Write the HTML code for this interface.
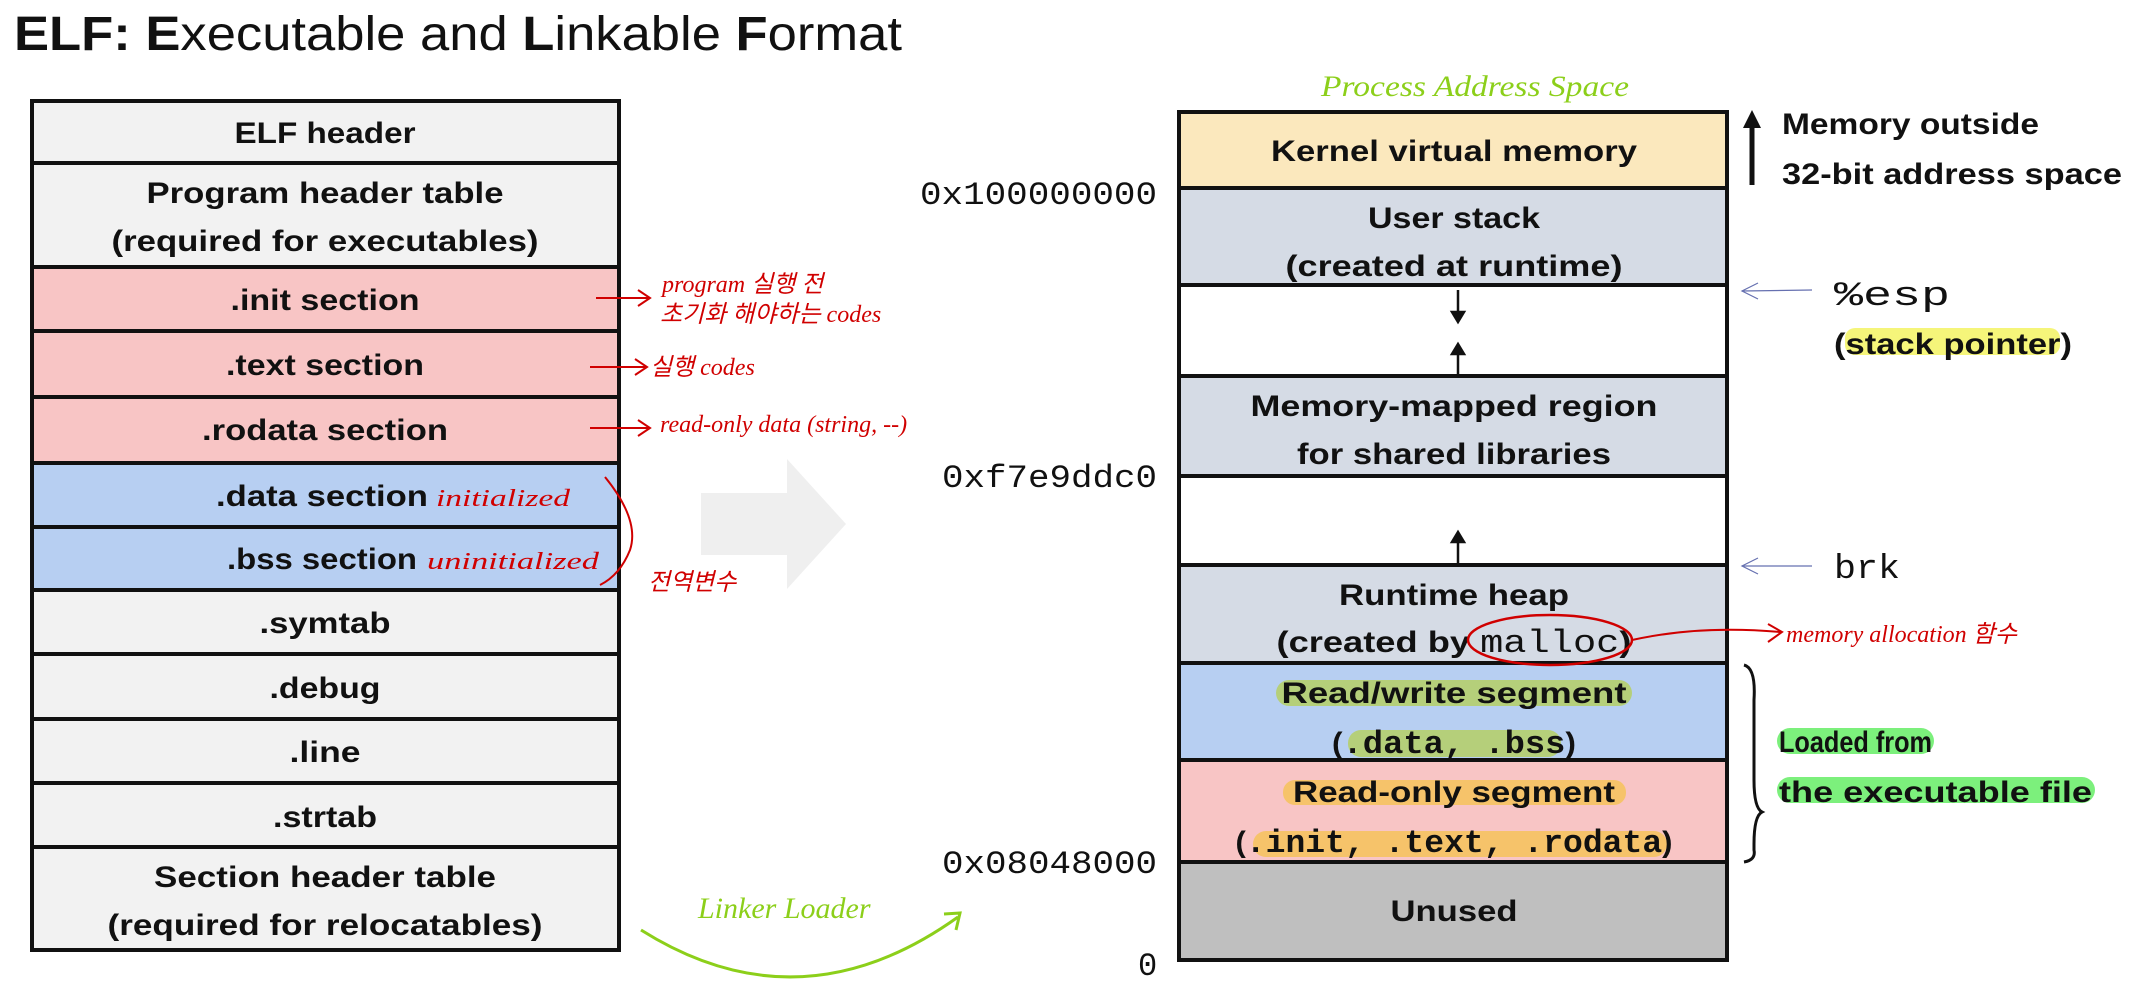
<!DOCTYPE html>
<html><head><meta charset="utf-8"><style>
html,body{margin:0;padding:0;background:#fff;}
svg{display:block}
.b{font-family:"Liberation Sans","Noto Sans CJK KR",sans-serif;font-weight:bold;font-size:30px;fill:#111;text-anchor:middle}
.s{font-family:"Liberation Sans","Noto Sans CJK KR",sans-serif;font-weight:bold;font-size:30px;fill:#111;text-anchor:start}
.m{font-family:"Liberation Mono",monospace;font-size:32px;fill:#111}
.r{font-family:"Liberation Serif","Noto Sans CJK KR",serif;font-style:italic;fill:#d00000;font-size:24px}
.g{font-family:"Liberation Serif",serif;font-style:italic;fill:#8ccf1a;font-size:30px}
</style></head><body>
<svg width="2146" height="999" viewBox="0 0 2146 999" xmlns="http://www.w3.org/2000/svg">
<text x="14" y="50" font-family="Liberation Sans,sans-serif" font-size="48" fill="#111" textLength="888" lengthAdjust="spacingAndGlyphs"><tspan font-weight="bold">ELF: E</tspan>xecutable and <tspan font-weight="bold">L</tspan>inkable <tspan font-weight="bold">F</tspan>ormat</text>

<!-- left table -->
<g stroke="#111" stroke-width="4">
<rect x="32" y="101" width="587" height="62" fill="#f2f2f2"/>
<rect x="32" y="163" width="587" height="104" fill="#f2f2f2"/>
<rect x="32" y="267" width="587" height="64" fill="#f8c5c5"/>
<rect x="32" y="331" width="587" height="66" fill="#f8c5c5"/>
<rect x="32" y="397" width="587" height="66" fill="#f8c5c5"/>
<rect x="32" y="463" width="587" height="64" fill="#b7cff2"/>
<rect x="32" y="527" width="587" height="63" fill="#b7cff2"/>
<rect x="32" y="590" width="587" height="64" fill="#f2f2f2"/>
<rect x="32" y="654" width="587" height="65" fill="#f2f2f2"/>
<rect x="32" y="719" width="587" height="64" fill="#f2f2f2"/>
<rect x="32" y="783" width="587" height="64" fill="#f2f2f2"/>
<rect x="32" y="847" width="587" height="103" fill="#f2f2f2"/>
</g>
<text class="b" x="325" y="143" textLength="181" lengthAdjust="spacingAndGlyphs">ELF header</text>
<text class="b" x="325" y="203" textLength="357" lengthAdjust="spacingAndGlyphs">Program header table</text>
<text class="b" x="325" y="251" textLength="427" lengthAdjust="spacingAndGlyphs">(required for executables)</text>
<text class="b" x="325" y="310" textLength="189" lengthAdjust="spacingAndGlyphs">.init section</text>
<text class="b" x="325" y="375" textLength="198" lengthAdjust="spacingAndGlyphs">.text section</text>
<text class="b" x="325" y="440" textLength="246" lengthAdjust="spacingAndGlyphs">.rodata section</text>
<text class="s" x="216" y="506" textLength="212" lengthAdjust="spacingAndGlyphs">.data section</text>
<text class="s" x="227" y="569" textLength="190" lengthAdjust="spacingAndGlyphs">.bss section</text>
<text class="b" x="325" y="633" textLength="131" lengthAdjust="spacingAndGlyphs">.symtab</text>
<text class="b" x="325" y="698" textLength="111" lengthAdjust="spacingAndGlyphs">.debug</text>
<text class="b" x="325" y="762" textLength="71" lengthAdjust="spacingAndGlyphs">.line</text>
<text class="b" x="325" y="827" textLength="104" lengthAdjust="spacingAndGlyphs">.strtab</text>
<text class="b" x="325" y="887" textLength="342" lengthAdjust="spacingAndGlyphs">Section header table</text>
<text class="b" x="325" y="935" textLength="435" lengthAdjust="spacingAndGlyphs">(required for relocatables)</text>

<!-- red annotations left -->
<g stroke="#d00000" stroke-width="2" fill="none">
<path d="M596,298 L648,298 M638,290 L650,298 L638,306"/>
<path d="M590,367 L645,367 M635,359 L647,367 L635,375"/>
<path d="M590,428 L648,428 M638,420 L650,428 L638,436"/>
<path d="M605,477 Q640,520 630,550 Q620,575 600,585"/>
</g>
<text class="r" x="662" y="292" font-size="22">program 실행 전</text>
<text class="r" x="660" y="322" font-size="22">초기화 해야하는 codes</text>
<text class="r" x="650" y="375">실행 codes</text>
<text class="r" x="660" y="432" font-size="26">read-only data (string, --)</text>
<text class="r" x="436" y="506" font-size="28" textLength="134" lengthAdjust="spacingAndGlyphs">initialized</text>
<text class="r" x="427" y="569" font-size="28" textLength="172" lengthAdjust="spacingAndGlyphs">uninitialized</text>
<text class="r" x="648" y="590" font-size="22">전역변수</text>

<!-- grey arrow -->
<path d="M701,493 L787,493 L787,459 L846,524 L787,589 L787,555 L701,555 Z" fill="#efefef"/>

<!-- green linker loader -->
<text class="g" x="698" y="918" font-size="30">Linker Loader</text>
<path d="M641,930 Q800,1030 958,917" fill="none" stroke="#8ccf1a" stroke-width="3"/>
<path d="M944,914 L960,913 L956,930" fill="none" stroke="#8ccf1a" stroke-width="3"/>
<text class="g" x="1321" y="96" font-size="32" textLength="308" lengthAdjust="spacingAndGlyphs">Process Address Space</text>

<!-- addresses -->
<text class="m" x="920" y="204" textLength="237" lengthAdjust="spacingAndGlyphs">0x100000000</text>
<text class="m" x="942" y="487" textLength="215" lengthAdjust="spacingAndGlyphs">0xf7e9ddc0</text>
<text class="m" x="942" y="873" textLength="215" lengthAdjust="spacingAndGlyphs">0x08048000</text>
<text class="m" x="1138" y="975">0</text>

<!-- right box -->
<g stroke="#111" stroke-width="4">
<rect x="1179" y="112" width="548" height="76" fill="#fbe8bd"/>
<rect x="1179" y="188" width="548" height="97" fill="#d5dbe5"/>
<rect x="1179" y="285" width="548" height="91" fill="#ffffff"/>
<rect x="1179" y="376" width="548" height="100" fill="#d5dbe5"/>
<rect x="1179" y="476" width="548" height="89" fill="#ffffff"/>
<rect x="1179" y="565" width="548" height="98" fill="#d5dbe5"/>
<rect x="1179" y="663" width="548" height="97" fill="#b7cff2"/>
<rect x="1179" y="760" width="548" height="102" fill="#f8c5c5"/>
<rect x="1179" y="862" width="548" height="98" fill="#bfbfbf"/>
</g>
<!-- highlights -->
<rect x="1276" y="680" width="356" height="26" rx="13" fill="#b5cf7a"/>
<rect x="1348" y="730" width="213" height="27" rx="13" fill="#b5cf7a"/>
<rect x="1283" y="780" width="343" height="25" rx="12" fill="#f6c36a"/>
<rect x="1253" y="831" width="414" height="26" rx="13" fill="#f6c36a"/>
<rect x="1845" y="328" width="215" height="27" rx="10" fill="#f5f57a"/>
<rect x="1777" y="728" width="157" height="26" rx="13" fill="#7cf07c"/>
<rect x="1777" y="777" width="318" height="26" rx="13" fill="#7cf07c"/>

<text class="b" x="1454" y="161" textLength="366" lengthAdjust="spacingAndGlyphs">Kernel virtual memory</text>
<text class="b" x="1454" y="228" textLength="172" lengthAdjust="spacingAndGlyphs">User stack</text>
<text class="b" x="1454" y="276" textLength="337" lengthAdjust="spacingAndGlyphs">(created at runtime)</text>
<text class="b" x="1454" y="416" textLength="407" lengthAdjust="spacingAndGlyphs">Memory-mapped region</text>
<text class="b" x="1454" y="464" textLength="314" lengthAdjust="spacingAndGlyphs">for shared libraries</text>
<text class="b" x="1454" y="605" textLength="230" lengthAdjust="spacingAndGlyphs">Runtime heap</text>
<text class="b" x="1454" y="652" textLength="355" lengthAdjust="spacingAndGlyphs">(created by <tspan font-family="Liberation Mono,monospace" font-weight="normal" font-size="32">malloc</tspan>)</text>
<text class="b" x="1454" y="703" textLength="345" lengthAdjust="spacingAndGlyphs">Read/write segment</text>
<text class="b" x="1454" y="753" textLength="244" lengthAdjust="spacingAndGlyphs">(<tspan font-family="Liberation Mono,monospace" font-size="32">.data, .bss</tspan>)</text>
<text class="b" x="1454" y="802" textLength="322" lengthAdjust="spacingAndGlyphs">Read-only segment</text>
<text class="b" x="1454" y="852" textLength="437" lengthAdjust="spacingAndGlyphs">(<tspan font-family="Liberation Mono,monospace" font-size="32">.init, .text, .rodata</tspan>)</text>
<text class="b" x="1454" y="921" textLength="127" lengthAdjust="spacingAndGlyphs">Unused</text>

<!-- small arrows -->
<g stroke="#111" stroke-width="2.5" fill="#111">
<line x1="1458" y1="290" x2="1458" y2="314"/><path d="M1452,312 L1458,322 L1464,312 Z"/>
<line x1="1458" y1="376" x2="1458" y2="352"/><path d="M1452,354 L1458,344 L1464,354 Z"/>
<line x1="1458" y1="565" x2="1458" y2="540"/><path d="M1452,542 L1458,532 L1464,542 Z"/>
</g>
<!-- big up arrow -->
<line x1="1752" y1="185" x2="1752" y2="122" stroke="#111" stroke-width="5"/>
<path d="M1743,128 L1752,110 L1761,128 Z" fill="#111"/>
<text class="s" x="1782" y="134" textLength="257" lengthAdjust="spacingAndGlyphs">Memory outside</text>
<text class="s" x="1782" y="184" textLength="340" lengthAdjust="spacingAndGlyphs">32-bit address space</text>

<!-- esp / brk -->
<g stroke="#6670b0" stroke-width="1.2" fill="none">
<line x1="1742" y1="291" x2="1812" y2="290"/><path d="M1758,283 L1742,291 L1758,299"/>
<line x1="1742" y1="566" x2="1812" y2="566"/><path d="M1758,558 L1742,566 L1758,574"/>
</g>
<text x="1834" y="305" font-family="Liberation Mono,monospace" font-size="34" fill="#111" textLength="116" lengthAdjust="spacingAndGlyphs">%esp</text>
<text class="s" x="1834" y="354" textLength="238" lengthAdjust="spacingAndGlyphs">(stack pointer)</text>
<text x="1834" y="578" font-family="Liberation Mono,monospace" font-size="34" fill="#111" textLength="66" lengthAdjust="spacingAndGlyphs">brk</text>

<!-- brace -->
<path d="M1744,665 Q1756,668 1754,700 L1754,780 Q1754,808 1762,812 Q1754,816 1754,844 L1754,850 Q1756,860 1744,862" fill="none" stroke="#111" stroke-width="3"/>
<text class="s" x="1779" y="752" textLength="153" lengthAdjust="spacingAndGlyphs">Loaded from</text>
<text class="s" x="1779" y="802" textLength="313" lengthAdjust="spacingAndGlyphs">the executable file</text>

<!-- malloc ellipse -->
<ellipse cx="1550" cy="640" rx="82" ry="25" fill="none" stroke="#d00000" stroke-width="2.5"/>
<path d="M1632,640 Q1700,625 1780,632 M1768,624 L1782,632 L1768,642" fill="none" stroke="#d00000" stroke-width="2"/>
<text class="r" x="1786" y="642" font-size="26">memory allocation 함수</text>
</svg>
</body></html>
